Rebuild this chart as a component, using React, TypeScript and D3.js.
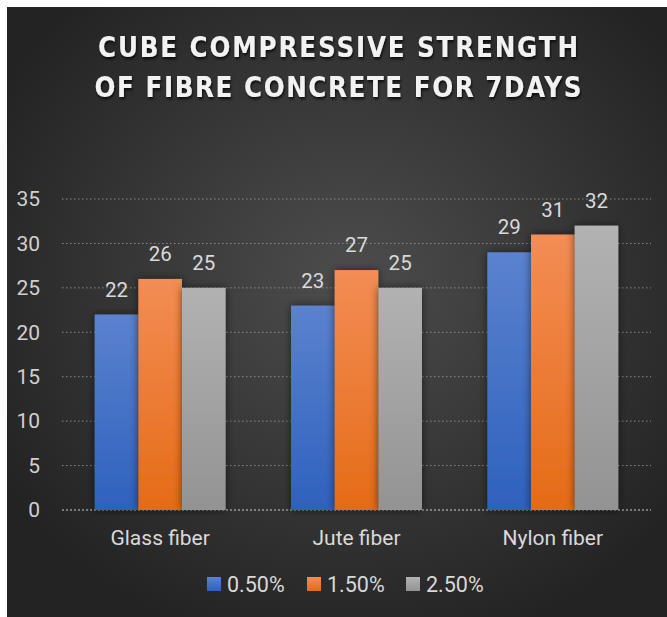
import * as d3 from 'd3';
import { useEffect, useRef } from 'react';

const categories = ['Glass fiber', 'Jute fiber', 'Nylon fiber'];
const seriesNames = ['0.50%', '1.50%', '2.50%'];
const values: number[][] = [
  [22, 23, 29], // 0.50%
  [26, 27, 31], // 1.50%
  [25, 25, 32], // 2.50%
];
const yTicks = [0, 5, 10, 15, 20, 25, 30, 35];
const titleLines = ['CUBE COMPRESSIVE STRENGTH', 'OF FIBRE CONCRETE FOR 7DAYS'];

const colors = [
  { top: '#5b82cf', bottom: '#2e61bd' },
  { top: '#f38d55', bottom: '#e56b16' },
  { top: '#b2b2b2', bottom: '#939393' },
];

export default function App() {
  const ref = useRef<SVGSVGElement | null>(null);

  useEffect(() => {
    const width = 667;
    const height = 617;
    const margin = { top: 199, right: 16, bottom: 107, left: 62 };

    const svg = d3.select(ref.current);
    svg.selectAll('*').remove();
    svg.attr('width', width).attr('height', height);

    const defs = svg.append('defs');
    const bg = defs.append('radialGradient').attr('id', 'bg')
      .attr('cx', '52%').attr('cy', '45%').attr('r', '62%');
    bg.append('stop').attr('offset', '0%').attr('stop-color', '#4d4d4d');
    bg.append('stop').attr('offset', '100%').attr('stop-color', '#232323');

    colors.forEach((c, i) => {
      const g = defs.append('linearGradient').attr('id', `bar${i}`)
        .attr('x1', 0).attr('y1', 0).attr('x2', 0).attr('y2', 1);
      g.append('stop').attr('offset', '0%').attr('stop-color', c.top);
      g.append('stop').attr('offset', '100%').attr('stop-color', c.bottom);
    });

    const shadow = defs.append('filter').attr('id', 'shadow')
      .attr('x', '-30%').attr('y', '-10%').attr('width', '160%').attr('height', '120%');
    shadow.append('feDropShadow').attr('dx', 0).attr('dy', 0)
      .attr('stdDeviation', 4).attr('flood-color', '#000').attr('flood-opacity', 0.55);

    const tshadow = defs.append('filter').attr('id', 'tshadow')
      .attr('x', '-10%').attr('y', '-30%').attr('width', '120%').attr('height', '160%');
    tshadow.append('feDropShadow').attr('dx', 1).attr('dy', 2)
      .attr('stdDeviation', 1.5).attr('flood-color', '#000').attr('flood-opacity', 0.8);

    // white frame + dark chart area
    svg.append('rect').attr('width', width).attr('height', height).attr('fill', '#ffffff');
    svg.append('rect').attr('x', 7).attr('y', 7)
      .attr('width', width - 7).attr('height', height - 7).attr('fill', 'url(#bg)');

    // title: bold face squeezed horizontally for a condensed look
    const squeeze = 0.88;
    const titleWidths = [480, 487];
    svg.append('g').attr('filter', 'url(#tshadow)')
      .attr('transform', `translate(338,0) scale(${squeeze},1)`)
      .selectAll('text').data(titleLines).join('text')
      .attr('x', 0).attr('y', (_, i) => 57 + i * 40)
      .attr('text-anchor', 'middle')
      .attr('font-family', '"DejaVu Sans", sans-serif')
      .attr('font-weight', 'bold')
      .attr('font-size', 28)
      .attr('textLength', (_, i) => titleWidths[i] / squeeze)
      .attr('lengthAdjust', 'spacing')
      .attr('fill', '#f2f2f2')
      .text(d => d);

    const x0 = d3.scaleBand<string>()
      .domain(categories)
      .range([margin.left, width - margin.right])
      .paddingInner(0)
      .paddingOuter(0);

    const groupWidth = x0.bandwidth() * 0.667;
    const x1 = d3.scaleBand<string>()
      .domain(seriesNames)
      .range([0, groupWidth]);

    const y = d3.scaleLinear()
      .domain([0, 35])
      .range([height - margin.bottom, margin.top]);

    // gridlines
    svg.append('g').selectAll('line').data(yTicks).join('line')
      .attr('x1', margin.left).attr('x2', width - margin.right)
      .attr('y1', d => y(d)).attr('y2', d => y(d))
      .attr('stroke', d => (d === 0 ? '#cfcfcf' : '#8c8c8c'))
      .attr('stroke-width', 1)
      .attr('stroke-dasharray', d => (d === 0 ? '2,2' : '1.5,2.5'));

    // y tick labels
    svg.append('g').selectAll('text').data(yTicks).join('text')
      .attr('x', 40).attr('y', d => y(d))
      .attr('dy', '0.35em')
      .attr('text-anchor', 'end')
      .attr('font-family', 'Roboto, sans-serif')
      .attr('font-size', 21)
      .attr('fill', '#d0d0d0')
      .text(d => d);

    // bars
    const groups = svg.append('g').selectAll('g').data(categories).join('g')
      .attr('transform', c => `translate(${x0(c)! + (x0.bandwidth() - groupWidth) / 2},0)`);

    groups.selectAll('rect')
      .data((_, ci) => seriesNames.map((s, si) => ({ s, si, v: values[si][ci] })))
      .join('rect')
      .attr('x', d => x1(d.s)!)
      .attr('y', d => y(d.v))
      .attr('width', x1.bandwidth())
      .attr('height', d => y(0) - y(d.v))
      .attr('fill', d => `url(#bar${d.si})`)
      .attr('filter', 'url(#shadow)');

    // data labels
    groups.selectAll('text')
      .data((_, ci) => seriesNames.map((s, si) => ({ s, si, v: values[si][ci] })))
      .join('text')
      .attr('x', d => x1(d.s)! + x1.bandwidth() / 2)
      .attr('y', d => y(d.v) - 18)
      .attr('text-anchor', 'middle')
      .attr('font-family', 'Roboto, sans-serif')
      .attr('font-size', 20.5)
      .attr('fill', '#d9d9d9')
      .text(d => d.v);

    // x labels
    svg.append('g').selectAll('text').data(categories).join('text')
      .attr('x', c => x0(c)! + x0.bandwidth() / 2)
      .attr('y', 545)
      .attr('text-anchor', 'middle')
      .attr('font-family', 'Roboto, sans-serif')
      .attr('font-size', 21)
      .attr('fill', '#d9d9d9')
      .text(c => c);

    // legend
    const legendX = [207, 307, 406];
    const legend = svg.append('g').selectAll('g').data(seriesNames).join('g')
      .attr('transform', (_, i) => `translate(${legendX[i]},577)`);
    legend.append('rect')
      .attr('width', 14).attr('height', 14)
      .attr('fill', (_, i) => `url(#bar${i})`);
    legend.append('text')
      .attr('x', 20).attr('y', 7).attr('dy', '0.35em')
      .attr('font-family', 'Roboto, sans-serif')
      .attr('font-size', 21.5)
      .attr('fill', '#d9d9d9')
      .text(d => d);
  }, []);

  return (
    <div style={{ position: 'absolute', left: 0, top: 0 }}>
      <svg ref={ref} style={{ display: 'block' }}></svg>
    </div>
  );
}
